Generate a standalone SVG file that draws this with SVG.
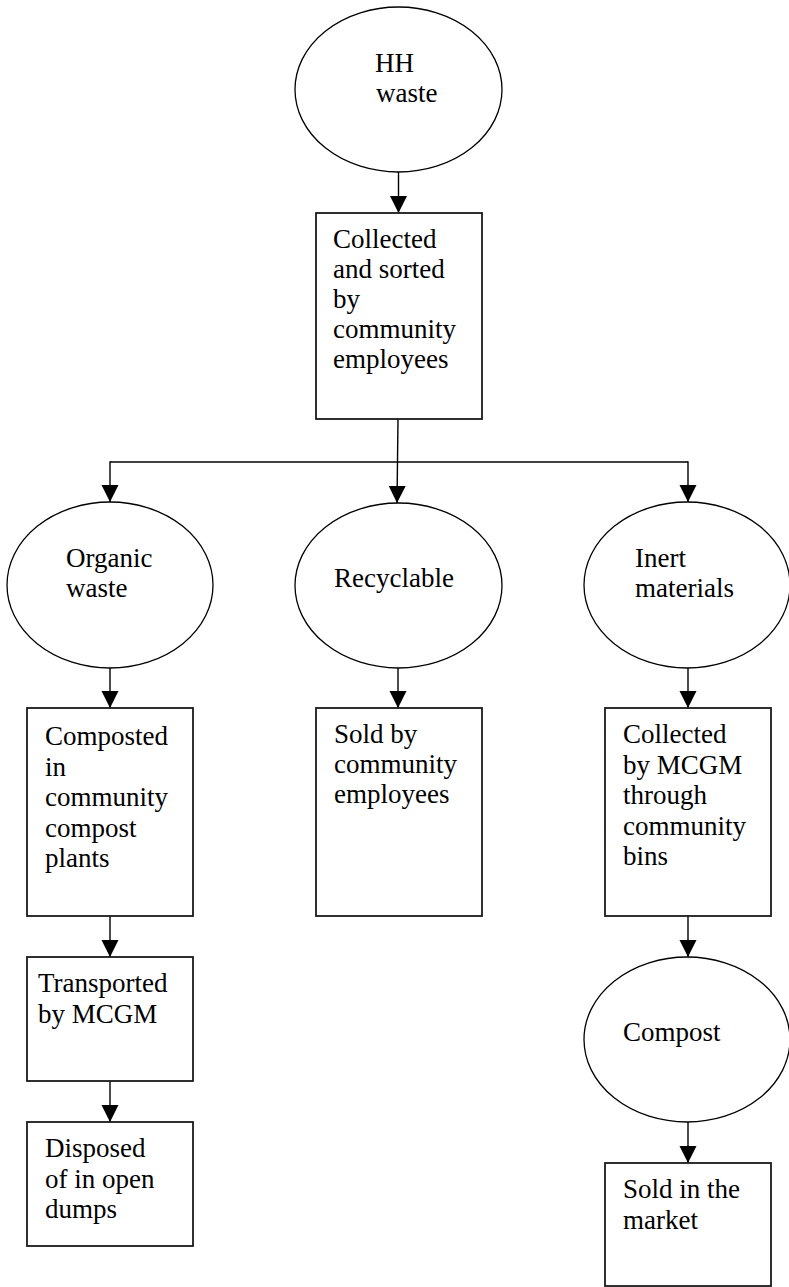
<svg xmlns="http://www.w3.org/2000/svg" width="789" height="1287" viewBox="0 0 789 1287">
<style>
.box{fill:#fff;stroke:#1a1a1a;stroke-width:1.8}
.ell{fill:#fff;stroke:#000;stroke-width:1.3}
.t{font-family:"Liberation Serif","Times New Roman",serif;font-size:27px;fill:#000}
.c{fill:none;stroke:#000;stroke-width:1.4}
</style>
<defs>
<marker id="ah" markerUnits="userSpaceOnUse" markerWidth="18" markerHeight="18" refX="17" refY="8.5" orient="auto">
<path d="M0,0 L17,8.5 L0,17 Z" fill="#000"/>
</marker>
</defs>
<rect width="789" height="1287" fill="#fff"/>
<g id="connectors">
<line class="c" x1="398.5" y1="172" x2="398.5" y2="213" marker-end="url(#ah)"/>
<line class="c" x1="398" y1="419" x2="397" y2="503" marker-end="url(#ah)"/>
<line class="c" x1="110" y1="462" x2="688" y2="462"/>
<line class="c" x1="110" y1="461.3" x2="110" y2="502" marker-end="url(#ah)"/>
<line class="c" x1="688" y1="461.3" x2="688" y2="502" marker-end="url(#ah)"/>
<line class="c" x1="110" y1="668" x2="110" y2="708" marker-end="url(#ah)"/>
<line class="c" x1="398" y1="668" x2="398" y2="708" marker-end="url(#ah)"/>
<line class="c" x1="688" y1="668" x2="688" y2="708" marker-end="url(#ah)"/>
<line class="c" x1="110" y1="916" x2="110" y2="957" marker-end="url(#ah)"/>
<line class="c" x1="110" y1="1081" x2="110" y2="1122" marker-end="url(#ah)"/>
<line class="c" x1="688" y1="916" x2="688" y2="957" marker-end="url(#ah)"/>
<line class="c" x1="688" y1="1122" x2="688" y2="1163" marker-end="url(#ah)"/>
</g>
<g id="hh">
<ellipse class="ell" cx="398.5" cy="89.5" rx="103.5" ry="82.5"/>
<text class="t" x="375" y="72">HH</text>
<text class="t" x="376" y="102">waste</text>
</g>
<g id="collected">
<rect class="box" x="316" y="213" width="166" height="206"/>
<text class="t" x="333" y="248">Collected</text>
<text class="t" x="333" y="278">and sorted</text>
<text class="t" x="333" y="308">by</text>
<text class="t" x="333" y="338">community</text>
<text class="t" x="333" y="368">employees</text>
</g>
<g id="organic">
<ellipse class="ell" cx="110" cy="585" rx="103" ry="83"/>
<text class="t" x="66" y="567">Organic</text>
<text class="t" x="66" y="597">waste</text>
</g>
<g id="recyclable">
<ellipse class="ell" cx="398.5" cy="585.5" rx="103.5" ry="82.5"/>
<text class="t" x="334" y="587">Recyclable</text>
</g>
<g id="inert">
<ellipse class="ell" cx="687" cy="585" rx="103" ry="83"/>
<text class="t" x="635" y="567">Inert</text>
<text class="t" x="635" y="597">materials</text>
</g>
<g id="composted">
<rect class="box" x="27" y="708" width="166" height="208"/>
<text class="t" x="45" y="745">Composted</text>
<text class="t" x="45" y="775.5">in</text>
<text class="t" x="45" y="806">community</text>
<text class="t" x="45" y="836.5">compost</text>
<text class="t" x="45" y="867">plants</text>
</g>
<g id="soldby">
<rect class="box" x="316" y="708" width="166" height="208"/>
<text class="t" x="334" y="743">Sold by</text>
<text class="t" x="334" y="773">community</text>
<text class="t" x="334" y="803">employees</text>
</g>
<g id="collectedmcgm">
<rect class="box" x="605" y="708" width="166" height="208"/>
<text class="t" x="623" y="743">Collected</text>
<text class="t" x="623" y="773.5">by MCGM</text>
<text class="t" x="623" y="804">through</text>
<text class="t" x="623" y="834.5">community</text>
<text class="t" x="623" y="865">bins</text>
</g>
<g id="transported">
<rect class="box" x="27" y="957" width="166" height="124"/>
<text class="t" x="38" y="992">Transported</text>
<text class="t" x="38" y="1023">by MCGM</text>
</g>
<g id="disposed">
<rect class="box" x="27" y="1122" width="166" height="124"/>
<text class="t" x="45" y="1157">Disposed</text>
<text class="t" x="45" y="1188">of in open</text>
<text class="t" x="45" y="1218">dumps</text>
</g>
<g id="compost">
<ellipse class="ell" cx="687" cy="1039.5" rx="103" ry="82.5"/>
<text class="t" x="623" y="1041">Compost</text>
</g>
<g id="market">
<rect class="box" x="605" y="1163" width="166" height="123"/>
<text class="t" x="623" y="1198">Sold in the</text>
<text class="t" x="623" y="1229">market</text>
</g>
</svg>
